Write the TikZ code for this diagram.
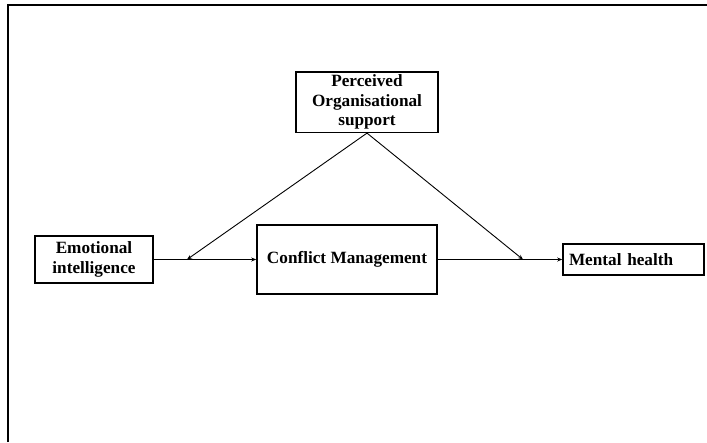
\documentclass[tikz,border=0pt]{standalone}
\usepackage{fontspec}
\setmainfont{Liberation Serif}
\usetikzlibrary{arrows.meta, positioning}

\tikzset{
  varbox/.style={draw, line width=1.6pt, inner sep=3pt, font=\fontsize{17.2}{19.5}\selectfont\bfseries, align=center},
  arr/.style={-{Stealth[length=5pt, width=4pt]}, line width=0.9pt}
}

\begin{document}
\begin{tikzpicture}[x=1pt, y=-1pt]
  \useasboundingbox (0,0) rectangle (707,442);
  % Frame
  \draw[line width=1.6pt] (8,442) -- (8,5) -- (707,5);
  % Variables
  \node[varbox, minimum width=142pt, minimum height=60pt] (perc) at (367,102) {Perceived\\Organisational\\support};
  \node[varbox, minimum width=118pt, minimum height=47pt] (emot) at (94,259.5) {Emotional\\intelligence};
  \node[varbox, minimum width=180pt, minimum height=69pt] (conf) at (347,259.5) {Conflict Management};
  \node[varbox, text width=129pt, align=left, inner sep=6pt, minimum height=31pt] (ment) at (633.5,259.5) {Mental health};
  % Moderation points
  \coordinate (modl) at (187,259.5);
  \coordinate (modr) at (523,259.5);
  % Paths
  \draw[arr] (emot) -- (conf);
  \draw[arr] (conf) -- (ment);
  \draw[arr] (perc.south) -- (modl);
  \draw[arr] (perc.south) -- (modr);
\end{tikzpicture}
\end{document}
